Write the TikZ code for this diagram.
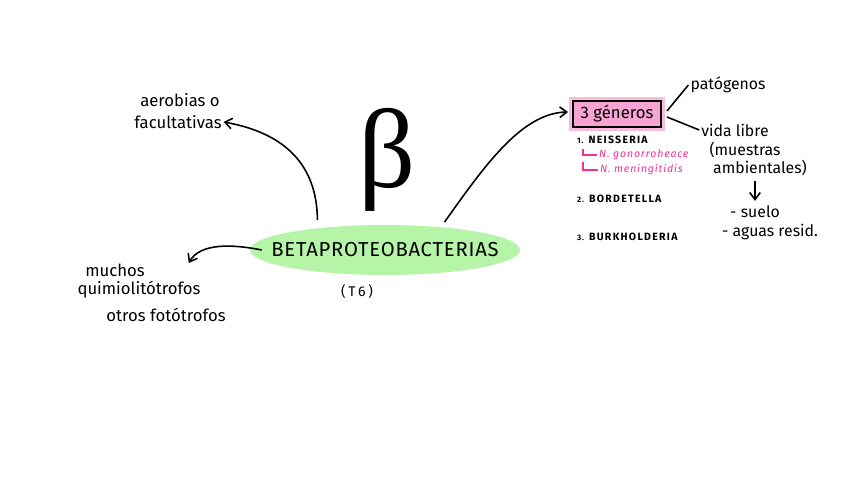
\documentclass[tikz,border=0pt]{standalone}
\usepackage{fontspec}
\setmainfont{Fira Sans}
\newfontfamily\serifb{Liberation Serif}
\usetikzlibrary{arrows.meta,positioning,calc,shapes.geometric}
\definecolor{verde}{HTML}{B6F4A8}
\definecolor{rosa}{HTML}{F7A3D3}
\definecolor{rosaclaro}{HTML}{FABCDD}
\definecolor{rosatxt}{HTML}{F72E96}

\begin{document}
\begin{tikzpicture}[x=0.02cm,y=-0.02cm,>={Straight Barb[length=4pt,width=6pt]},font=\fontsize{9.5}{11}\selectfont]
\tikzstyle{t}=[inner sep=1pt]
\tikzstyle{td}=[inner sep=1pt,font=\fontsize{9}{11}\selectfont]
\tikzstyle{gen}=[inner sep=1pt,anchor=west,font=\fontsize{6}{7}\selectfont\bfseries\addfontfeatures{LetterSpace=12}]
\tikzstyle{esp}=[inner sep=1pt,anchor=west,text=rosatxt,font=\fontsize{6}{7}\selectfont\itshape\addfontfeatures{LetterSpace=8}]
\tikzstyle{fl}=[->,line width=0.9pt]
\useasboundingbox (0,0) rectangle (848,477);
% centro
\node[ellipse,fill=verde,inner xsep=-0.55cm,inner ysep=0pt,minimum width=5.4cm,minimum height=1cm,font=\fontsize{11.5}{13}\selectfont\addfontfeatures{LetterSpace=4}] (b) at (385,250) {BETAPROTEOBACTERIAS};
\node[t,font=\fontsize{8}{9}\selectfont\addfontfeatures{LetterSpace=20}] (t6) at (357,292) {(T6)};
\node[t] (beta) at (387,160) {\serifb\fontsize{64}{64}\selectfont β};
% izquierda
\node[t] (ae) at (180,100) {aerobias o};
\node[t] (fa) at (178,122) {facultativas};
\node[t] (mu) at (115,270) {muchos};
\node[t] (qu) at (139,290) {quimiolitótrofos};
\node[t] (ot) at (166,315) {otros fotótrofos};
\draw[fl] ($(b.162)+(0,-8)$) .. controls (317,165) and (285,133) .. (fa.east);
\draw[fl] ($(b.west)+(12,0)$) .. controls (232,244) and (200,243) .. ($(mu.east)+(42,-7)$);
% derecha
\node[draw,line width=1.1pt,fill=rosa,minimum width=1.76cm,minimum height=0.52cm,inner sep=1pt,
  preaction={draw=rosaclaro,line width=5pt,rounded corners=2pt},font=\fontsize{9.5}{11}\selectfont] (g) at (617,114) {3 géneros};
\draw[fl] ($(b.18)+(-8,-6)$) .. controls (485,165) and (522,113) .. ($(g.west)+(-4,-2)$);
\node[td] (pat) at (728,85) {patógenos};
\node[td] (vl) at (735,130) {vida libre};
\node[td] (mue) at (745,150) {(muestras};
\node[td] (amb) at (760,168) {ambientales)};
\node[td] (su) at (755,212) {- suelo};
\node[td] (ag) at (770,232) {- aguas resid.};
\draw[line width=0.9pt] ($(g.east)+(5,-3)$) -- (pat.west);
\draw[line width=0.9pt] ($(g.east)+(5,3)$) -- (vl.west);
\draw[fl] ($(su.north |- amb.south)+(0,3)$) -- ($(su.north)+(0,-3)$);
% generos
\node[gen] (ne) at (575,140) {{\fontsize{4.5}{5}\selectfont 1.} NEISSERIA};
\node[esp] (go) at (597,155) {N. gonorroheace};
\node[esp] (me) at (598,170) {N. meningitidis};
\node[gen] (bo) at (575,199) {{\fontsize{4.5}{5}\selectfont 2.} BORDETELLA};
\node[gen] (bu) at (575,237) {{\fontsize{4.5}{5}\selectfont 3.} BURKHOLDERIA};
\draw[rosatxt,line width=0.8pt] ($(go.west)+(-14,-6)$) |- (go.west);
\draw[rosatxt,line width=0.8pt] ($(me.west)+(-15,-8)$) |- (me.west);
\end{tikzpicture}
\end{document}
